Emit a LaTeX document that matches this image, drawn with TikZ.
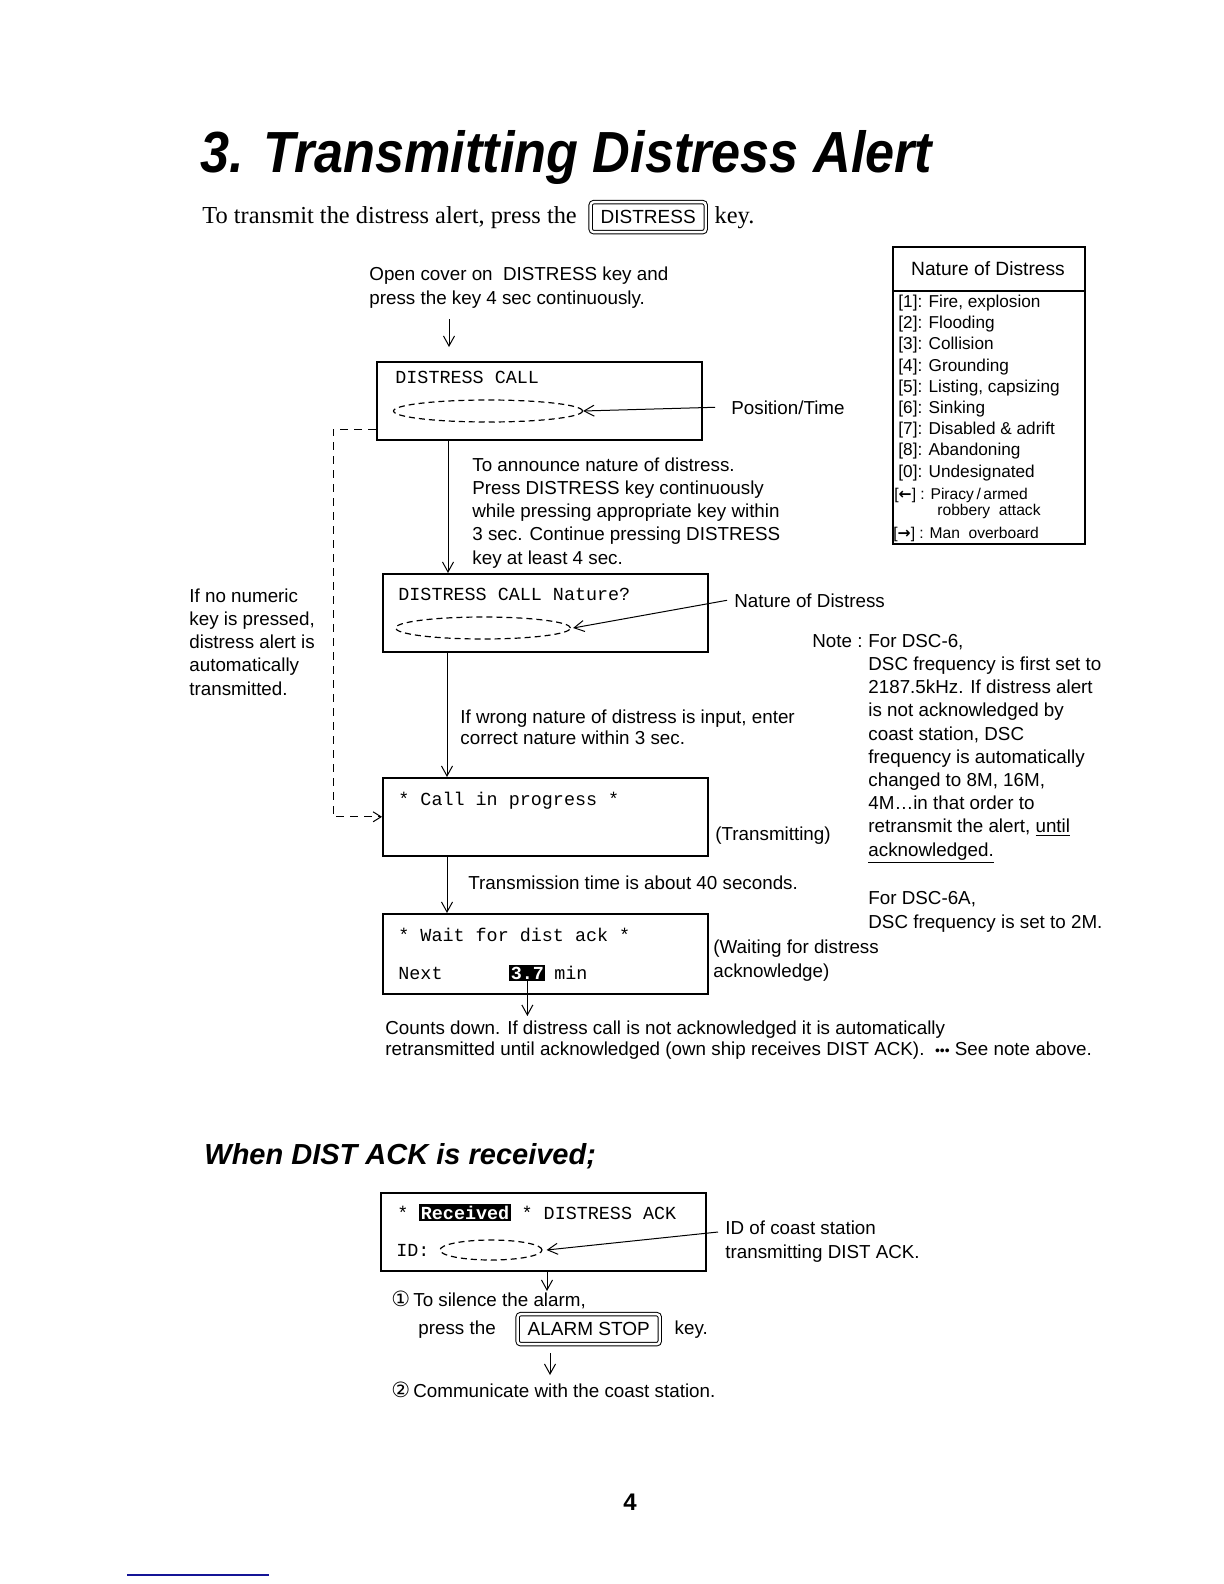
\documentclass[tikz,border=0pt]{standalone}
\usepackage{graphicx}
\usepackage{fontspec}
\setmainfont{Liberation Sans}
\setmonofont{Liberation Mono}
\newfontfamily\serifface{Liberation Serif}
\newfontfamily\symface{DejaVu Sans}
\usetikzlibrary{positioning,shapes.geometric,arrows.meta}
\definecolor{ScanBlue}{RGB}{20,20,150}

\begin{document}
\begin{tikzpicture}[x=0.5pt, y=-0.5pt,
      lcd/.style={rectangle, draw, line width=0.8pt, anchor=north west, minimum width=162.5pt, minimum height=39pt, inner sep=0pt},
      lcdtext/.style={font=\ttfamily\fontsize{9.2}{11}\selectfont, inner sep=0pt, anchor=base west},
      body/.style={font=\fontsize{9.4}{11.6}\selectfont, align=left, inner sep=0pt, anchor=base west},
      ring/.style={ellipse, draw, dash pattern=on 3pt off 2pt, line width=0.6pt, inner sep=0pt, minimum height=11pt},
      inv/.style={fill=black, text=white, font=\ttfamily\bfseries\fontsize{9.2}{11}\selectfont, inner sep=0.7pt, anchor=base west},
      key/.style={draw, double, double distance=1.2pt, line width=0.5pt, rounded corners=1.5pt, inner xsep=5pt, minimum height=15pt, font=\fontsize{9.5}{11}\selectfont},
      arr/.style={-{Straight Barb[length=5pt,width=5.5pt]}, line width=0.5pt},
      fback/.style={-{Straight Barb[length=4pt,width=5pt]}, dash pattern=on 4pt off 3pt, line width=0.5pt}
    ]
      \useasboundingbox[fill=white] (0,0) rectangle (1224,1584);

      % Heading (multi-line nodes sit on the baseline of their last line)
      \node[inner sep=0pt, anchor=base west, font=\fontsize{29}{32}\selectfont\bfseries\itshape] (title) at (200,172) {\scalebox{0.9}[1]{3. Transmitting Distress Alert}};
      \node[inner sep=0pt, anchor=base west, font=\serifface\fontsize{12.2}{14}\selectfont] (intro) at (202,223) {To transmit the distress alert, press the};
      \node[key, right=6.5pt of intro] (dkey) {DISTRESS};
      \node[inner sep=0pt, anchor=base west, font=\serifface\fontsize{12.2}{14}\selectfont] (introkey) at ([xshift=4pt]dkey.east |- intro.base) {key.};

      % Nature of distress table
      \node[draw, line width=0.8pt, anchor=north west, minimum width=96pt, minimum height=148.5pt, inner sep=0pt] (nat) at (892,246) {};
      \draw[line width=0.8pt] (nat.west |- 0,291) -- (nat.east |- 0,291);
      \node[inner sep=0pt, anchor=base, font=\fontsize{9.6}{11}\selectfont] (nathead) at (988,275) {Nature of Distress};
      \node[body, font=\fontsize{8.6}{10.6}\selectfont] (natlist) at (898,477) {{[1]}: Fire, explosion\\{[2]}: Flooding\\{[3]}: Collision\\{[4]}: Grounding\\{[5]}: Listing, capsizing\\{[6]}: Sinking\\{[7]}: Disabled \& adrift\\{[8]}: Abandoning\\{[0]}: Undesignated};
      \node[body, font=\fontsize{7.8}{8}\selectfont] (natpir) at (894,499) {[{\symface\bfseries ←}] : Piracy\,/\,armed};
      \node[body, font=\fontsize{7.8}{8}\selectfont] (natrob) at (937,515) {robbery\ \ attack};
      \node[body, font=\fontsize{7.8}{8}\selectfont] (natman) at (893,538) {[{\symface\bfseries →}] : Man\ \ overboard};

      % Step 1
      \node[body] (open) at (369,304) {Open cover on \ DISTRESS key and\\press the key 4 sec continuously.};
      \coordinate (a1top) at (449,319);
      \coordinate (a1end) at (449,347);
      \node[lcd] (call) at (376,361) {};
      \node[lcdtext] (callt) at (395,383) {DISTRESS CALL};
      \node[ring, minimum width=94.5pt] (ring1) at (488,411) {};
      \node[body] (postime) at (731,414) {Position/Time};

      % Step 2
      \node[body] (announce) at (472,564) {To announce nature of distress.\\Press DISTRESS key continuously\\while pressing appropriate key within\\3 sec. Continue pressing DISTRESS\\key at least 4 sec.};
      \node[lcd] (nature) at (382,573) {};
      \node[lcdtext] (naturet) at (398,600) {DISTRESS CALL Nature?};
      \node[ring, minimum width=87.5pt] (ring2) at (483,628) {};
      \node[body] (natlbl) at (734,607) {Nature of Distress};
      \node[body] (nokey) at (189,695) {If no numeric\\key is pressed,\\distress alert is\\automatically\\transmitted.};

      % Step 3
      \node[body, font=\fontsize{9.4}{10.5}\selectfont] (wrong) at (460,744) {If wrong nature of distress is input, enter\\correct nature within 3 sec.};
      \node[lcd] (prog) at (382,777) {};
      \node[lcdtext] (progt) at (398,805) {* Call in progress *};
      \node[body] (txlbl) at (715,840) {(Transmitting)};

      % Step 4
      \node[body] (txtime) at (468,889) {Transmission time is about 40 seconds.};
      \node[lcd, minimum height=40pt] (wait) at (382,913) {};
      \node[lcdtext] (waitt) at (398,941) {* Wait for dist ack *};
      \node[lcdtext] (next) at (398,979) {Next};
      \node[inv] (cnt) at (509,979) {3.7};
      \node[lcdtext] (minu) at (554,979) {min};
      \node[body] (waitlbl) at (713,977) {(Waiting for distress\\acknowledge)};
      \node[body, font=\fontsize{9.4}{10.5}\selectfont] (counts) at (385,1055) {Counts down. If distress call is not acknowledged it is automatically\\retransmitted until acknowledged (own ship receives DIST ACK). \ {\scriptsize\textbullet\textbullet\textbullet} See note above.};

      % Note
      \node[body] (notelbl) at (812,647) {Note :};
      \node[body] (note) at (868,856) {For DSC-6,\\DSC frequency is first set to\\2187.5kHz. If distress alert\\is not acknowledged by\\coast station, DSC\\frequency is automatically\\changed to 8M, 16M,\\4M\ldots in that order to\\retransmit the alert, \underline{until}\\\underline{acknowledged.}};
      \node[body] (note6a) at (868,928) {For DSC-6A,\\DSC frequency is set to 2M.};

      % When DIST ACK is received
      \node[inner sep=0pt, anchor=base west, font=\fontsize{14.5}{16}\selectfont\bfseries\itshape] (ackhead) at (204,1164) {When DIST ACK is received;};
      \node[lcd] (ack) at (380,1192) {};
      \node[lcdtext] (ackt) at (397,1219) {* {\setlength{\fboxsep}{0.7pt}\colorbox{black}{\textcolor{white}{\bfseries Received}}} * DISTRESS ACK};
      \node[lcdtext] (idt) at (396,1256) {ID:};
      \node[ring, minimum width=51pt, minimum height=10pt] (ring3) at (491,1250) {};
      \node[body] (idlbl) at (725,1258) {ID of coast station\\transmitting DIST ACK.};
      \node[body] (silence) at (391,1306) {{\symface\fontsize{10.5}{12}\selectfont ①}\,To silence the alarm,};
      \node[body] (press) at (418,1334) {press the};
      \node[key, right=10.5pt of press] (akey) {ALARM STOP};
      \node[body] (presskey) at ([xshift=7pt]akey.east |- press.base) {key.};
      \coordinate (a7top) at (550,1353);
      \coordinate (a7end) at (550,1375);
      \node[body] (comm) at (391,1397) {{\symface\fontsize{10.5}{12}\selectfont ②}\,Communicate with the coast station.};

      % Page number and scan mark
      \node[inner sep=0pt, anchor=base, font=\fontsize{12}{14}\selectfont\bfseries] (pageno) at (630,1510) {4};
      \coordinate (blueA) at (127,1575);
      \coordinate (blueB) at (269,1575);
      \draw[ScanBlue, line width=1pt] (blueA) -- (blueB);

      % Connections
      \draw[arr] (a1top) -- (a1end);
      \draw[arr] (call.south -| 448,0) -- (nature.north -| 448,0);
      \draw[arr] (nature.south -| 447,0) -- (prog.north -| 447,0);
      \draw[arr] (prog.south -| 447,0) -- (wait.north -| 447,0);
      \draw[arr] (cnt.south) -- ([yshift=2pt]cnt.south |- counts.north);
      \draw[arr] (ack.south -| 547,0) -- (547,1291);
      \draw[arr] (a7top) -- (a7end);
      \draw[arr] ([xshift=-8pt]postime.west) -- (ring1.east);
      \draw[arr] ([xshift=-3.5pt]natlbl.west) -- ([xshift=1pt]ring2.east);
      \draw[arr] ([xshift=-3.5pt]idlbl.west |- 0,1232) -- ([xshift=2pt]ring3.east);
      \draw[fback] (call.west |- 0,429) -- (333,429) |- (prog.west);
    \end{tikzpicture}
\end{document}
